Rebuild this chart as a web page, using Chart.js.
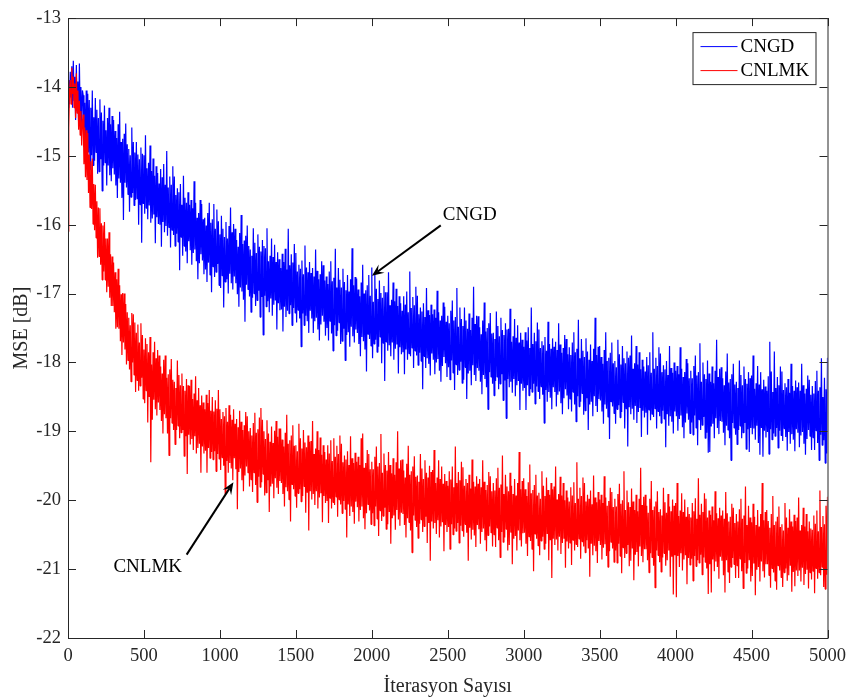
<!DOCTYPE html>
<html>
<head>
<meta charset="utf-8">
<script src="https://cdn.jsdelivr.net/npm/chart.js@4.4.1/dist/chart.umd.min.js"></script>
<style>
  html, body { margin: 0; padding: 0; background: #fff; }
  #wrap { width: 853px; height: 699px; }
</style>
</head>
<body>
<div id="wrap"><canvas id="mseChart" width="853" height="699"></canvas></div>
<script>
// one sample every 5 iterations (one line = 100 iterations)
const step = 5
const seriesNames = ['CNGD', 'CNLMK']
const xTicks = [0, 500, 1000, 1500, 2000, 2500, 3000, 3500, 4000, 4500, 5000]
const yTicks = [-22, -21, -20, -19, -18, -17, -16, -15, -14, -13]

const cngdMse = [
    -14.30, -13.90, -14.25, -13.78, -14.15, -13.70, -14.30, -13.62, -14.20, -13.85, -14.48, -13.68, -14.35, -13.92, -14.55, -13.66, -14.42, -14.00, -14.60, -14.05,
    -14.12, -14.87, -14.23, -15.05, -14.05, -14.77, -14.10, -14.95, -14.19, -15.20, -14.30, -14.99, -14.05, -15.14, -14.44, -15.07, -14.16, -14.95, -14.33, -15.26,
    -14.45, -15.23, -14.18, -15.05, -14.37, -15.51, -14.49, -15.14, -14.27, -15.10, -14.63, -15.43, -14.45, -15.14, -14.30, -15.28, -14.54, -15.37, -14.42, -15.18,
    -14.48, -15.27, -14.64, -15.43, -14.74, -15.61, -14.54, -15.33, -14.36, -15.39, -14.80, -15.61, -14.75, -15.93, -14.68, -15.39, -14.53, -15.46, -14.83, -15.56,
    -14.90, -15.81, -14.99, -15.60, -14.59, -15.54, -14.80, -15.72, -14.95, -15.64, -14.80, -15.62, -14.98, -16.00, -15.05, -15.71, -14.88, -16.26, -14.97, -15.69,
    -14.99, -15.84, -14.70, -15.76, -15.18, -15.92, -15.10, -15.72, -14.85, -15.97, -15.22, -15.91, -15.04, -15.85, -15.29, -16.27, -15.15, -15.89, -15.25, -15.99,
    -15.40, -16.00, -15.19, -16.32, -15.31, -15.96, -15.12, -16.11, -15.42, -16.02, -14.93, -16.16, -15.46, -16.04, -15.30, -16.33, -15.42, -16.08, -15.15, -16.15,
    -15.30, -16.31, -15.57, -16.13, -15.47, -16.25, -15.53, -16.66, -15.41, -16.18, -15.71, -16.45, -15.29, -16.31, -15.61, -16.39, -15.68, -16.56, -15.53, -16.24,
    -15.71, -16.37, -15.64, -16.58, -15.76, -16.41, -15.37, -16.36, -15.68, -16.53, -15.90, -16.79, -15.83, -16.56, -15.64, -16.43, -15.70, -16.52, -15.92, -16.72,
    -15.90, -16.65, -16.01, -16.83, -15.83, -16.55, -15.68, -16.73, -15.97, -16.98, -15.92, -16.61, -15.70, -16.76, -16.06, -16.69, -15.78, -16.57, -15.95, -16.88,
    -16.14, -16.92, -15.87, -16.74, -16.06, -17.20, -16.18, -16.83, -15.96, -16.79, -16.20, -17.00, -16.02, -16.71, -15.75, -16.85, -16.11, -16.94, -15.99, -16.75,
    -16.06, -16.85, -16.22, -17.01, -16.32, -17.19, -16.12, -16.91, -15.86, -16.97, -16.28, -17.09, -16.23, -17.41, -16.16, -16.87, -16.01, -16.94, -16.31, -17.04,
    -16.36, -17.27, -16.45, -17.06, -16.05, -17.00, -16.26, -17.18, -16.41, -17.10, -16.14, -16.96, -16.32, -17.34, -16.39, -17.05, -16.22, -17.60, -16.31, -17.03,
    -16.34, -17.19, -16.05, -17.11, -16.53, -17.27, -16.45, -17.07, -16.20, -17.32, -16.47, -17.16, -16.29, -17.10, -16.54, -17.52, -16.40, -17.14, -16.50, -17.24,
    -16.63, -17.23, -16.42, -17.55, -16.54, -17.19, -16.35, -17.34, -16.65, -17.25, -16.06, -17.29, -16.59, -17.17, -16.43, -17.46, -16.55, -17.21, -16.28, -17.28,
    -16.41, -17.42, -16.68, -17.24, -16.58, -17.36, -16.64, -17.77, -16.52, -17.29, -16.72, -17.46, -16.30, -17.32, -16.62, -17.40, -16.69, -17.57, -16.54, -17.25,
    -16.70, -17.36, -16.63, -17.57, -16.75, -17.40, -16.36, -17.35, -16.67, -17.52, -16.79, -17.68, -16.72, -17.45, -16.53, -17.32, -16.59, -17.41, -16.81, -17.61,
    -16.75, -17.50, -16.86, -17.68, -16.68, -17.40, -16.53, -17.58, -16.82, -17.83, -16.77, -17.46, -16.35, -17.61, -16.91, -17.54, -16.63, -17.42, -16.80, -17.73,
    -16.91, -17.69, -16.64, -17.51, -16.83, -17.97, -16.95, -17.60, -16.73, -17.56, -16.97, -17.77, -16.79, -17.48, -16.34, -17.62, -16.88, -17.71, -16.76, -17.52,
    -16.78, -17.57, -16.94, -17.73, -17.04, -17.91, -16.84, -17.63, -16.58, -17.69, -17.00, -17.81, -16.95, -18.13, -16.88, -17.59, -16.73, -17.66, -17.03, -17.76,
    -16.62, -17.94, -17.12, -17.73, -16.72, -17.67, -16.93, -17.85, -17.08, -17.77, -16.81, -17.63, -16.99, -18.01, -17.06, -17.72, -16.89, -18.27, -16.98, -17.70,
    -16.98, -17.83, -16.69, -17.75, -17.17, -17.91, -17.09, -17.71, -16.84, -17.96, -17.11, -17.80, -16.93, -17.74, -17.18, -18.16, -17.04, -17.78, -17.14, -17.88,
    -17.25, -17.85, -17.04, -18.17, -17.16, -17.81, -16.97, -17.96, -17.27, -17.87, -16.68, -17.91, -17.21, -17.79, -17.05, -18.08, -17.17, -17.83, -16.90, -17.90,
    -17.03, -18.04, -17.30, -17.86, -17.20, -17.98, -17.26, -18.39, -17.14, -17.91, -17.34, -18.08, -16.92, -17.94, -17.24, -18.02, -17.31, -18.19, -17.16, -17.87,
    -17.30, -17.96, -17.23, -18.17, -17.35, -18.00, -16.96, -17.95, -17.27, -18.12, -17.39, -18.28, -17.32, -18.05, -17.13, -17.92, -17.19, -18.01, -17.41, -18.21,
    -17.32, -18.07, -17.43, -18.25, -17.25, -17.97, -17.10, -18.15, -17.39, -18.40, -17.34, -18.03, -16.92, -18.18, -17.48, -18.11, -17.20, -17.99, -17.37, -18.30,
    -17.47, -18.25, -17.20, -18.07, -17.39, -18.53, -17.51, -18.16, -17.29, -18.12, -17.53, -18.33, -17.35, -18.04, -16.90, -18.18, -17.44, -18.27, -17.32, -18.08,
    -17.33, -18.12, -17.49, -18.28, -17.59, -18.46, -17.39, -18.18, -17.13, -18.24, -17.55, -18.36, -17.50, -18.68, -17.43, -18.14, -17.28, -18.21, -17.58, -18.31,
    -17.57, -18.48, -17.66, -18.27, -17.26, -18.21, -17.47, -18.39, -17.62, -18.31, -17.35, -18.17, -17.53, -18.55, -17.60, -18.26, -17.43, -18.81, -17.52, -18.24,
    -17.51, -18.36, -17.22, -18.28, -17.70, -18.44, -17.62, -18.24, -17.37, -18.49, -17.64, -18.33, -17.46, -18.27, -17.71, -18.69, -17.57, -18.31, -17.67, -18.41,
    -17.77, -18.37, -17.56, -18.69, -17.68, -18.33, -17.49, -18.48, -17.79, -18.39, -17.20, -18.43, -17.73, -18.31, -17.57, -18.60, -17.69, -18.35, -17.42, -18.42,
    -17.52, -18.53, -17.79, -18.35, -17.69, -18.47, -17.75, -18.88, -17.63, -18.40, -17.83, -18.57, -17.41, -18.43, -17.73, -18.51, -17.80, -18.68, -17.65, -18.36,
    -17.77, -18.43, -17.70, -18.64, -17.82, -18.47, -17.43, -18.42, -17.74, -18.59, -17.86, -18.75, -17.79, -18.52, -17.60, -18.39, -17.66, -18.48, -17.88, -18.68,
    -17.78, -18.53, -17.89, -18.71, -17.71, -18.43, -17.56, -18.61, -17.85, -18.86, -17.80, -18.49, -17.38, -18.64, -17.94, -18.57, -17.66, -18.45, -17.83, -18.76,
    -17.92, -18.70, -17.65, -18.52, -17.84, -18.98, -17.96, -18.61, -17.74, -18.57, -17.98, -18.78, -17.80, -18.49, -17.35, -18.63, -17.89, -18.72, -17.77, -18.53,
    -17.76, -18.55, -17.92, -18.71, -18.02, -18.89, -17.82, -18.61, -17.56, -18.67, -17.98, -18.79, -17.93, -19.11, -17.86, -18.57, -17.71, -18.64, -18.01, -18.74,
    -17.98, -18.89, -18.07, -18.68, -17.67, -18.62, -17.88, -18.80, -18.03, -18.72, -17.76, -18.58, -17.94, -18.96, -18.01, -18.67, -17.84, -19.22, -17.93, -18.65,
    -17.90, -18.75, -17.61, -18.67, -18.09, -18.83, -18.01, -18.63, -17.76, -18.88, -18.03, -18.72, -17.85, -18.66, -18.10, -19.08, -17.96, -18.70, -18.06, -18.80,
    -18.13, -18.73, -17.92, -19.05, -18.04, -18.69, -17.85, -18.84, -18.15, -18.75, -17.56, -18.79, -18.09, -18.67, -17.93, -18.96, -18.05, -18.71, -17.78, -18.78,
    -17.87, -18.88, -18.14, -18.70, -18.04, -18.82, -18.10, -19.23, -17.98, -18.75, -18.18, -18.92, -17.76, -18.78, -18.08, -18.86, -18.15, -19.03, -18.00, -18.71,
    -18.12, -18.78, -18.05, -18.99, -18.17, -18.82, -17.78, -18.77, -18.09, -18.94, -18.21, -19.10, -18.14, -18.87, -17.95, -18.74, -18.01, -18.83, -18.23, -19.03,
    -18.12, -18.87, -18.23, -19.05, -18.05, -18.77, -17.90, -18.95, -18.19, -19.20, -18.14, -18.83, -17.72, -18.98, -18.28, -18.91, -18.00, -18.79, -18.17, -19.10,
    -18.24, -19.02, -17.97, -19.31, -18.16, -19.30, -18.28, -18.93, -18.06, -18.89, -18.30, -19.10, -18.12, -18.81, -17.67, -18.95, -18.21, -19.04, -18.09, -18.85,
    -18.07, -18.86, -18.23, -19.02, -18.33, -19.20, -18.13, -18.92, -17.87, -18.98, -18.29, -19.10, -18.24, -19.42, -18.17, -18.88, -18.02, -18.95, -18.32, -19.05,
    -18.28, -19.19, -18.37, -18.98, -17.97, -18.92, -18.18, -19.10, -18.33, -19.02, -18.06, -18.88, -18.24, -19.26, -18.31, -18.97, -18.14, -19.30, -18.23, -18.95,
    -18.19, -19.04, -17.90, -18.96, -18.38, -19.12, -18.30, -18.92, -18.05, -19.17, -18.32, -19.34, -18.14, -18.95, -18.39, -19.37, -18.25, -18.99, -18.35, -19.09,
    -18.41, -19.01, -18.20, -19.33, -17.70, -18.97, -18.13, -19.12, -18.43, -19.03, -17.84, -19.07, -18.37, -18.95, -18.21, -19.24, -18.33, -18.99, -18.06, -19.06,
    -18.13, -19.14, -18.40, -18.96, -18.30, -19.08, -18.36, -19.28, -18.24, -19.01, -18.44, -19.18, -18.02, -19.04, -18.34, -19.12, -18.41, -19.29, -18.26, -18.97,
    -18.36, -19.02, -18.29, -19.23, -18.41, -19.06, -18.02, -19.01, -18.33, -19.18, -18.45, -19.34, -18.38, -19.11, -18.19, -18.98, -18.25, -19.07, -18.47, -19.27,
    -18.34, -19.09, -18.45, -19.27, -18.27, -18.99, -18.12, -19.17, -18.41, -19.42, -18.36, -19.05, -17.94, -19.20, -18.50, -19.13, -18.22, -19.46, -18.39, -19.32,
    -17.93
]

const cnlmkMse = [
    -16.10, -14.60, -14.05, -13.90, -14.25, -13.72, -14.10, -13.85, -14.30, -13.95, -14.45, -13.80, -14.38, -14.05, -14.62, -14.20, -14.70, -14.35, -14.85, -14.50,
    -14.40, -15.12, -14.59, -15.31, -14.63, -15.35, -14.67, -15.54, -14.98, -15.75, -15.08, -15.77, -15.04, -15.99, -15.41, -16.08, -15.42, -16.19, -15.66, -16.48,
    -15.75, -16.46, -15.76, -16.58, -15.98, -16.80, -16.01, -16.68, -15.96, -16.80, -16.20, -16.98, -16.20, -16.90, -16.11, -17.06, -16.43, -17.18, -16.46, -17.18,
    -16.55, -17.27, -16.69, -17.51, -16.79, -17.49, -16.64, -17.51, -16.88, -17.69, -17.01, -17.89, -16.99, -17.71, -17.00, -17.81, -17.15, -18.03, -17.27, -17.97,
    -17.35, -18.10, -17.46, -18.28, -17.28, -18.00, -17.30, -18.18, -17.42, -18.43, -17.57, -18.26, -17.45, -18.41, -17.71, -18.34, -17.43, -18.22, -17.60, -18.53,
    -17.81, -18.59, -17.65, -18.41, -17.73, -18.87, -17.85, -18.50, -17.63, -19.45, -18.03, -18.83, -17.85, -18.54, -17.70, -18.68, -17.94, -18.77, -17.82, -18.58,
    -17.90, -18.69, -18.06, -18.85, -18.16, -19.03, -17.96, -18.75, -17.90, -18.81, -18.22, -19.03, -18.17, -19.35, -18.10, -18.81, -17.95, -18.88, -18.25, -18.98,
    -18.28, -19.19, -18.37, -18.98, -17.97, -18.92, -18.18, -19.10, -18.33, -19.02, -18.16, -18.98, -18.34, -19.36, -18.41, -19.07, -18.24, -19.62, -18.33, -19.05,
    -18.34, -19.19, -18.25, -19.11, -18.53, -19.27, -18.45, -19.07, -18.20, -19.32, -18.55, -19.24, -18.37, -19.18, -18.62, -19.60, -18.48, -19.22, -18.58, -19.32,
    -18.68, -19.28, -18.47, -19.60, -18.59, -19.24, -18.40, -19.39, -18.70, -19.30, -18.50, -19.41, -18.71, -19.29, -18.55, -19.58, -18.67, -19.33, -18.40, -19.40,
    -18.68, -19.56, -18.82, -19.38, -18.72, -19.50, -18.78, -19.91, -18.66, -19.43, -18.86, -19.60, -18.62, -19.46, -18.76, -19.54, -18.83, -19.71, -18.68, -19.39,
    -18.89, -19.55, -18.82, -20.13, -18.94, -19.59, -18.70, -19.54, -18.86, -19.71, -18.98, -19.87, -18.91, -19.64, -18.72, -19.51, -18.78, -19.60, -19.00, -19.80,
    -18.95, -19.70, -19.06, -19.88, -18.88, -19.60, -18.73, -19.78, -19.02, -20.03, -18.97, -19.66, -18.80, -19.81, -18.66, -19.74, -18.83, -19.62, -19.00, -19.93,
    -19.11, -19.89, -18.84, -19.71, -19.03, -20.17, -19.15, -19.80, -18.93, -19.76, -19.17, -19.97, -18.99, -19.68, -18.85, -19.82, -19.08, -19.91, -18.96, -19.72,
    -18.96, -19.75, -19.12, -19.91, -19.22, -20.09, -19.02, -19.81, -18.76, -19.87, -19.18, -19.99, -19.13, -20.31, -19.06, -19.77, -18.91, -19.84, -19.21, -19.94,
    -19.20, -20.11, -19.29, -19.90, -18.89, -19.84, -19.10, -20.02, -19.25, -19.94, -18.98, -19.80, -19.16, -20.18, -19.23, -19.89, -19.06, -20.44, -19.15, -19.87,
    -19.14, -19.99, -18.85, -19.91, -19.33, -20.07, -19.25, -19.87, -19.00, -20.12, -19.27, -19.96, -19.09, -19.90, -19.34, -20.32, -19.20, -19.94, -19.30, -20.04,
    -19.41, -20.01, -19.20, -20.33, -19.32, -19.97, -19.13, -20.12, -19.43, -20.03, -19.10, -20.07, -19.37, -19.95, -19.21, -20.24, -19.33, -19.99, -19.06, -20.06,
    -19.18, -20.19, -19.45, -20.01, -19.35, -20.13, -19.41, -20.54, -19.29, -20.06, -19.49, -20.23, -19.07, -20.09, -19.39, -20.17, -19.46, -20.34, -19.31, -20.02,
    -19.44, -20.10, -19.37, -20.31, -19.49, -20.14, -19.10, -20.09, -19.03, -20.26, -19.53, -20.42, -19.46, -20.19, -19.27, -20.06, -19.33, -20.15, -19.55, -20.35,
    -19.44, -20.19, -19.55, -20.37, -19.37, -20.09, -19.22, -20.27, -19.51, -20.52, -19.46, -20.15, -19.04, -20.30, -19.60, -20.23, -19.32, -20.11, -19.49, -20.42,
    -19.57, -20.35, -19.30, -20.17, -19.49, -20.63, -19.61, -20.26, -19.39, -20.22, -19.63, -20.43, -19.45, -20.14, -19.00, -20.28, -19.54, -20.37, -19.42, -20.18,
    -19.41, -20.20, -19.57, -20.36, -19.67, -20.54, -19.47, -20.26, -19.21, -20.32, -19.63, -20.44, -19.58, -20.76, -19.51, -20.22, -19.36, -20.29, -19.66, -20.39,
    -19.64, -20.55, -19.73, -20.34, -19.33, -20.28, -19.54, -20.46, -19.69, -20.38, -19.42, -20.24, -19.60, -20.62, -19.67, -20.33, -19.50, -20.88, -19.59, -20.31,
    -19.56, -20.41, -19.27, -20.33, -19.75, -20.49, -19.67, -20.29, -19.42, -20.54, -19.69, -20.38, -19.51, -20.32, -19.76, -20.74, -19.62, -20.36, -19.72, -20.46,
    -19.79, -20.39, -19.58, -20.71, -19.70, -20.35, -19.51, -20.50, -19.81, -20.41, -19.22, -20.45, -19.75, -20.33, -19.59, -20.62, -19.71, -20.37, -19.44, -20.44,
    -19.52, -20.53, -19.79, -20.35, -19.69, -20.47, -19.75, -20.88, -19.63, -20.40, -19.83, -20.57, -19.41, -20.43, -19.73, -20.51, -19.80, -20.68, -19.65, -20.36,
    -19.76, -20.42, -19.69, -20.63, -19.81, -20.46, -19.42, -20.41, -19.73, -20.58, -19.85, -20.74, -19.78, -20.51, -19.59, -20.38, -19.65, -20.47, -19.87, -20.67,
    -19.75, -20.50, -19.86, -20.68, -19.68, -20.40, -19.53, -20.58, -19.82, -20.83, -19.77, -20.46, -19.35, -20.61, -19.91, -20.54, -19.63, -20.42, -19.80, -20.73,
    -19.87, -20.65, -19.60, -20.47, -19.79, -20.93, -19.91, -20.56, -19.69, -20.52, -19.93, -20.73, -19.75, -20.44, -19.30, -20.58, -19.84, -20.67, -19.72, -20.48,
    -19.68, -20.47, -19.84, -20.63, -19.94, -20.81, -19.74, -20.53, -19.48, -20.59, -19.90, -20.71, -19.85, -21.03, -19.78, -20.49, -19.63, -20.56, -19.93, -20.66,
    -19.89, -20.80, -19.98, -20.59, -19.58, -20.53, -19.79, -20.71, -19.94, -20.63, -19.67, -20.49, -19.85, -20.87, -19.92, -20.58, -19.75, -21.13, -19.84, -20.56,
    -19.80, -20.65, -19.51, -20.57, -19.99, -20.73, -19.91, -20.53, -19.66, -20.78, -19.93, -20.62, -19.75, -20.56, -20.00, -20.98, -19.86, -20.60, -19.96, -20.70,
    -20.02, -20.62, -19.81, -20.94, -19.93, -20.58, -19.74, -20.73, -20.04, -20.64, -19.45, -20.68, -19.98, -20.56, -19.82, -20.85, -19.94, -20.60, -19.67, -20.67,
    -19.75, -20.76, -20.02, -20.58, -19.92, -20.70, -19.98, -21.11, -19.86, -20.63, -20.06, -20.80, -19.64, -20.66, -19.96, -20.74, -20.03, -20.91, -19.88, -20.59,
    -19.99, -20.65, -19.92, -20.86, -20.04, -20.69, -19.65, -20.64, -19.96, -20.81, -20.08, -20.97, -20.01, -20.74, -19.82, -20.61, -19.88, -20.70, -20.10, -20.90,
    -19.98, -20.73, -20.09, -20.91, -19.91, -20.63, -19.76, -20.81, -20.05, -21.06, -20.00, -20.69, -19.58, -20.84, -20.14, -20.77, -19.86, -20.65, -20.03, -20.96,
    -20.10, -20.88, -19.83, -20.70, -20.02, -21.16, -20.14, -20.79, -19.92, -20.75, -20.16, -20.96, -19.98, -20.67, -19.53, -20.81, -20.07, -20.90, -19.95, -20.71,
    -19.92, -20.71, -20.08, -20.87, -20.18, -21.05, -19.98, -20.77, -19.72, -20.83, -20.14, -20.95, -20.09, -21.27, -20.02, -20.73, -19.87, -20.80, -20.17, -20.90,
    -20.13, -21.04, -20.22, -20.83, -19.82, -20.77, -20.03, -20.95, -20.18, -20.87, -19.91, -20.73, -20.09, -21.11, -20.16, -20.82, -19.99, -21.37, -20.08, -20.80,
    -20.04, -21.41, -19.75, -20.81, -20.23, -20.97, -20.15, -20.77, -19.90, -21.02, -20.17, -20.86, -19.99, -20.80, -20.24, -21.22, -20.10, -20.84, -20.20, -20.94,
    -20.25, -20.85, -20.04, -21.17, -20.16, -20.81, -19.97, -20.96, -20.27, -20.87, -19.68, -20.91, -20.21, -20.79, -20.05, -21.08, -20.17, -20.83, -19.90, -20.90,
    -19.98, -20.99, -20.25, -21.36, -20.15, -20.93, -20.21, -21.34, -20.09, -20.86, -20.29, -21.03, -19.87, -20.89, -20.19, -20.97, -20.26, -21.14, -20.11, -20.82,
    -20.22, -20.88, -20.15, -21.09, -20.27, -21.34, -19.88, -20.87, -20.19, -21.04, -20.31, -21.20, -20.24, -20.97, -20.05, -20.84, -20.11, -20.93, -20.33, -21.13,
    -20.20, -20.95, -20.31, -21.13, -20.13, -20.85, -19.98, -21.03, -20.27, -21.28, -20.22, -20.91, -19.80, -21.06, -20.36, -20.99, -20.08, -20.87, -20.25, -21.18,
    -20.32, -21.10, -20.05, -20.92, -20.24, -21.38, -20.36, -21.01, -20.14, -20.97, -20.38, -21.18, -20.20, -20.89, -19.75, -21.03, -20.29, -21.12, -20.17, -20.93,
    -20.14, -20.93, -20.30, -21.09, -20.40, -21.27, -20.20, -20.99, -19.94, -21.05, -20.36, -21.17, -20.31, -21.30, -20.24, -20.95, -20.09, -21.02, -20.39, -21.12,
    -20.35, -21.26, -20.44, -21.05, -20.04, -20.99, -20.25, -21.17, -20.40, -21.09, -20.13, -20.95, -20.31, -21.33, -20.38, -21.04, -20.21, -21.25, -20.30, -21.02,
    -20.25, -21.10, -19.96, -21.02, -20.44, -21.18, -20.36, -20.98, -20.11, -21.23, -20.38, -21.07, -20.20, -21.01, -20.45, -21.28, -20.31, -21.05, -20.41, -21.15,
    -20.43, -21.03, -20.22, -21.35, -20.34, -20.99, -20.15, -21.14, -20.45, -21.05, -19.86, -21.09, -20.39, -20.97, -20.23, -21.26, -20.35, -21.29, -20.08, -21.08,
    -19.95
]

const axisColor = '#262626'
const serif = "'Liberation Serif', 'Times New Roman', serif"
Chart.defaults.font.family = serif
Chart.defaults.color = axisColor

const toPoints = vals => vals.map((v, i) => ({ x: i * step, y: v }))

// arrow + text labels, in data units
const callouts = [
    { text: 'CNGD', tx: 2645, ty: -15.86, from: [2454, -16.01], to: [2001, -16.74] },
    { text: 'CNLMK', tx: 525, ty: -20.97, from: [781, -20.79], to: [1089, -19.74] }
]

const matlabLook = {
    id: 'matlabLook',
    afterDatasetsDraw(chart) {
        const { ctx, chartArea: a, scales: { x, y } } = chart
        ctx.save()
        ctx.strokeStyle = axisColor
        ctx.lineWidth = 1

        // axes box + inward ticks on all four sides
        ctx.strokeRect(a.left + 0.5, a.top + 0.5, a.right - a.left, a.bottom - a.top)
        ctx.beginPath()
        xTicks.forEach(v => {
            const px = Math.round(x.getPixelForValue(v)) + 0.5
            ctx.moveTo(px, a.bottom); ctx.lineTo(px, a.bottom - 8)
            ctx.moveTo(px, a.top); ctx.lineTo(px, a.top + 8)
        })
        yTicks.forEach(v => {
            const py = Math.round(y.getPixelForValue(v)) + 0.5
            ctx.moveTo(a.left, py); ctx.lineTo(a.left + 8, py)
            ctx.moveTo(a.right, py); ctx.lineTo(a.right - 8, py)
        })
        ctx.stroke()

        // callouts
        ctx.fillStyle = '#000'
        ctx.strokeStyle = '#000'
        ctx.font = '19px ' + serif
        ctx.textAlign = 'center'
        ctx.textBaseline = 'middle'
        callouts.forEach(c => {
            ctx.fillText(c.text, x.getPixelForValue(c.tx), y.getPixelForValue(c.ty))
            const x0 = x.getPixelForValue(c.from[0]), y0 = y.getPixelForValue(c.from[1])
            const x1 = x.getPixelForValue(c.to[0]), y1 = y.getPixelForValue(c.to[1])
            const ang = Math.atan2(y1 - y0, x1 - x0)
            const len = 12, half = 5
            const ux = Math.cos(ang), uy = Math.sin(ang)
            ctx.lineWidth = 2
            ctx.beginPath()
            ctx.moveTo(x0, y0)
            ctx.lineTo(x1 - ux * len * 0.6, y1 - uy * len * 0.6)
            ctx.stroke()
            ctx.beginPath()
            ctx.moveTo(x1, y1)
            ctx.lineTo(x1 - ux * len - uy * half, y1 - uy * len + ux * half)
            ctx.lineTo(x1 - ux * len * 0.6, y1 - uy * len * 0.6)
            ctx.lineTo(x1 - ux * len + uy * half, y1 - uy * len - ux * half)
            ctx.closePath()
            ctx.fill()
        })

        // legend box, top right inside the axes
        const lw = 123, lh = 52
        const lx = a.right - 12 - lw, ly = a.top + 14
        ctx.fillStyle = '#fff'
        ctx.fillRect(lx, ly, lw, lh)
        ctx.lineWidth = 1
        ctx.strokeStyle = axisColor
        ctx.strokeRect(lx + 0.5, ly + 0.5, lw, lh)
        ctx.textAlign = 'left'
        chart.data.datasets.forEach((ds, i) => {
            const ry = ly + 14 + i * 24
            ctx.strokeStyle = ds.borderColor
            ctx.beginPath()
            ctx.moveTo(lx + 8, ry + 0.5)
            ctx.lineTo(lx + 45, ry + 0.5)
            ctx.stroke()
            ctx.fillStyle = '#000'
            ctx.fillText(ds.label, lx + 48, ry + 1)
        })
        ctx.restore()
    }
}

const ctx = document.getElementById('mseChart')
new Chart(ctx, {
    type: 'line',
    data: {
        datasets: [{
            label: seriesNames[0],
            data: toPoints(cngdMse),
            borderColor: '#0000ff',
            borderWidth: 1.2,
            order: 1
        }, {
            label: seriesNames[1],
            data: toPoints(cnlmkMse),
            borderColor: '#ff0000',
            borderWidth: 1.2,
            order: 0
        }]
    },
    options: {
        responsive: false,
        animation: false,
        devicePixelRatio: 1,
        layout: { padding: { top: 8, right: 23, left: 0, bottom: 0 } },
        elements: {
            point: { radius: 0 },
            line: { tension: 0, borderJoinStyle: 'bevel' }
        },
        plugins: {
            legend: { display: false },
            tooltip: { enabled: false }
        },
        scales: {
            x: {
                type: 'linear',
                min: 0,
                max: 5000,
                afterFit: s => { s.height = 61 },
                afterBuildTicks: s => { s.ticks = xTicks.map(v => ({ value: v })) },
                grid: { display: false, drawTicks: false },
                border: { display: false },
                ticks: {
                    padding: 7,
                    maxRotation: 0,
                    autoSkip: false,
                    font: { size: 18.5 },
                    color: axisColor,
                    callback: v => String(v)
                },
                title: {
                    display: true,
                    text: 'İterasyon Sayısı',
                    font: { size: 20 },
                    color: axisColor,
                    padding: { top: 4, bottom: 0 }
                }
            },
            y: {
                min: -22,
                max: -13,
                afterFit: s => { s.width = 68 },
                afterBuildTicks: s => { s.ticks = yTicks.map(v => ({ value: v })) },
                grid: { display: false, drawTicks: false },
                border: { display: false },
                ticks: {
                    padding: 7,
                    autoSkip: false,
                    font: { size: 18.5 },
                    color: axisColor,
                    callback: v => String(Math.round(v))
                },
                title: {
                    display: true,
                    text: 'MSE [dB]',
                    font: { size: 20 },
                    color: axisColor,
                    padding: { top: 10, bottom: 0 }
                }
            }
        }
    },
    plugins: [matlabLook]
})
</script>
</body>
</html>
